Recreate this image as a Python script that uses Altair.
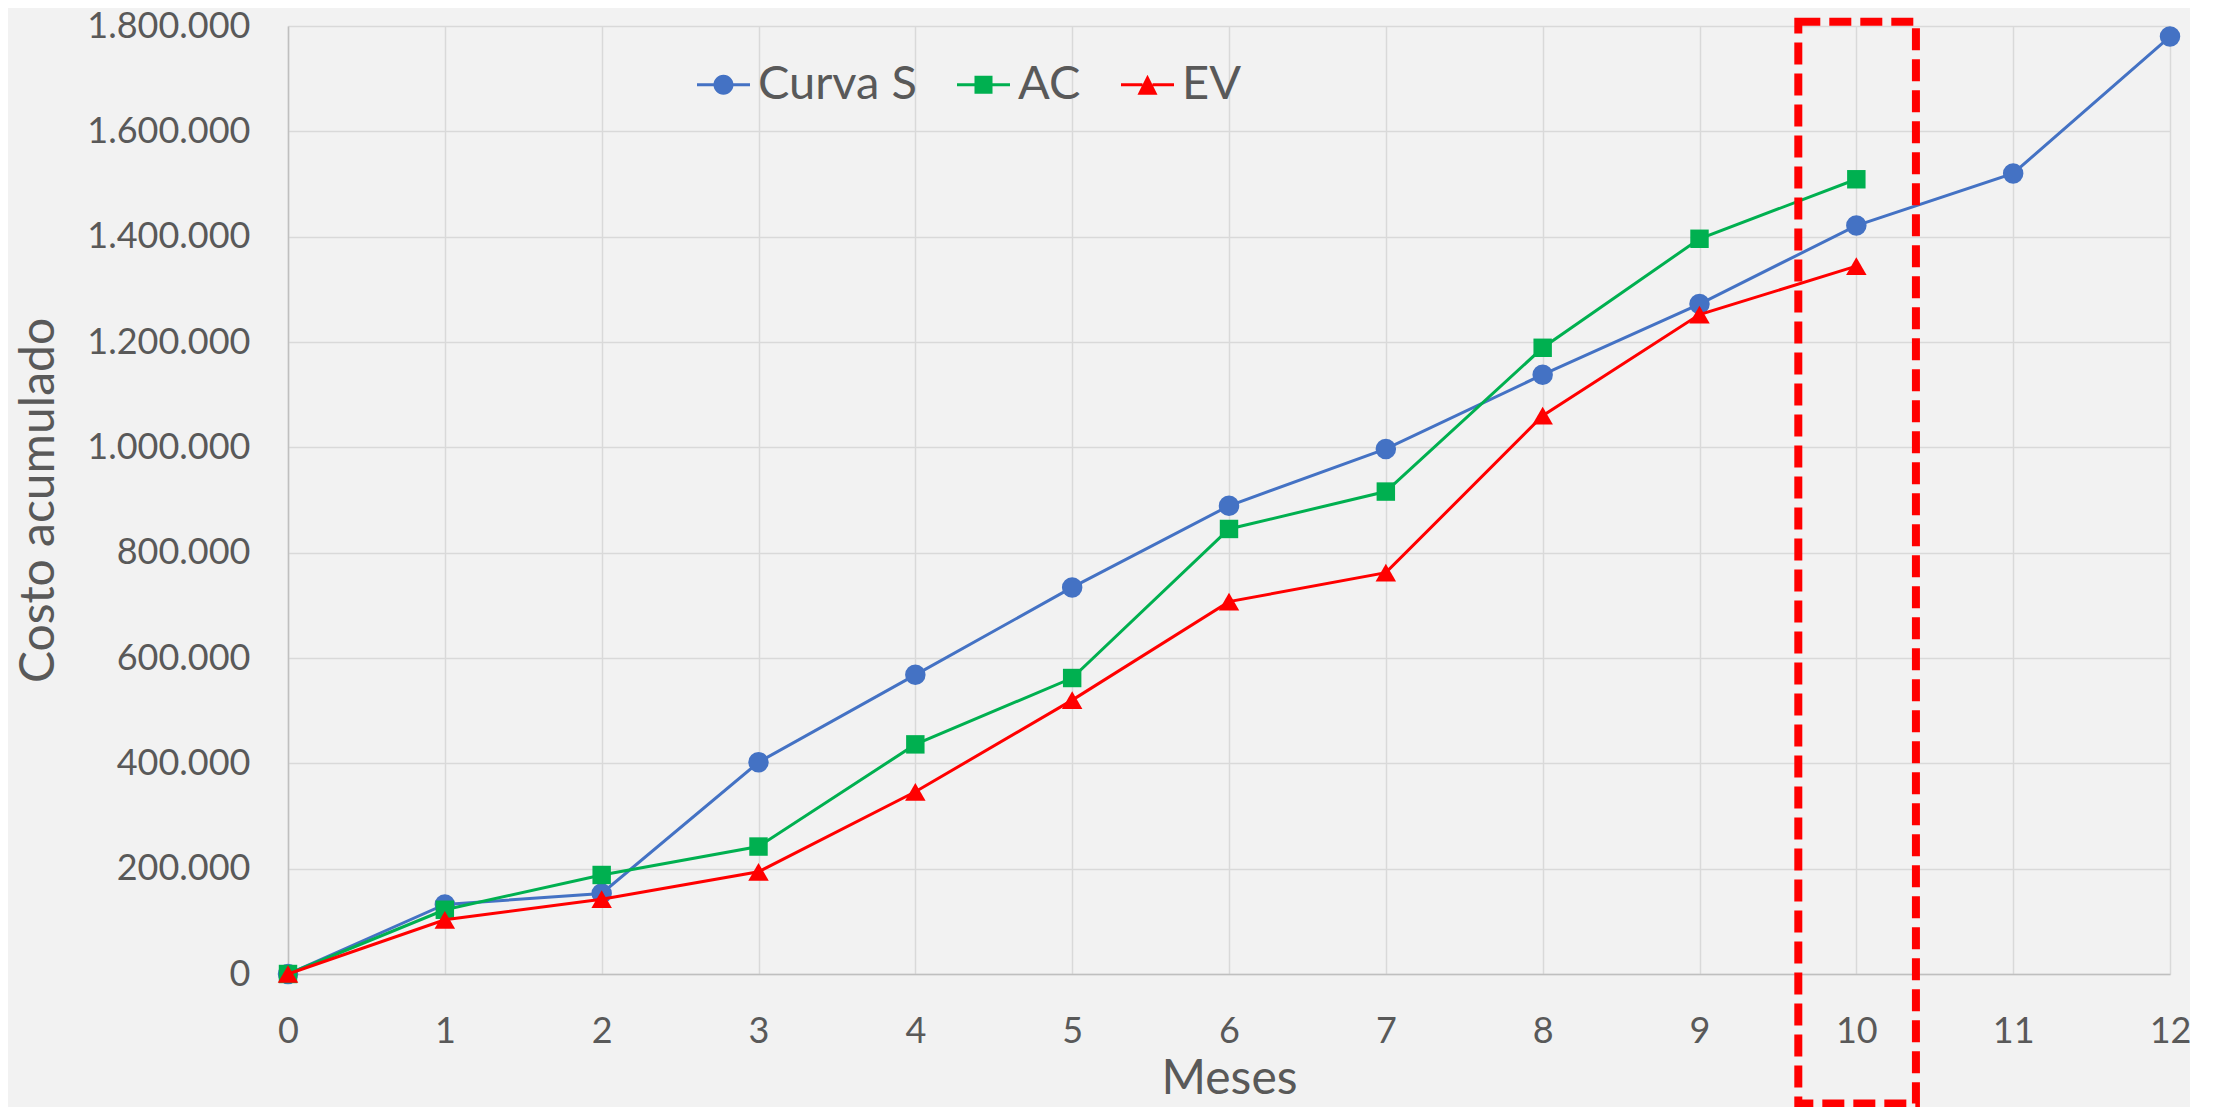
import altair as alt
import pandas as pd

# ---- data ----
meses = list(range(13))
curva_s = [0, 132000, 153000, 402000, 568000, 734000, 889000, 997000,
           1138000, 1272000, 1421000, 1520000, 1780000]
ac = [0, 122000, 188000, 242000, 436000, 562000, 845000, 916000,
      1189000, 1396000, 1509000]
ev = [0, 103000, 142000, 194000, 346000, 520000, 707000, 762000,
      1060000, 1252000, 1344000]

series = ["Curva S", "AC", "EV"]
colors = ["#4472C4", "#00B050", "#FF0000"]
marker_shapes = ["circle", "square", "triangle-up"]
marker_sizes = [420, 340, 420]

x_ticks = meses
y_ticks = list(range(0, 1800001, 200000))

# highlighted window around month 10 (dashed red frame), in data units
box_x = [9.63, 10.38]
box_y = [-246000, 1808000]

# ---- tables ----
rows = []
for name, vals in zip(series, [curva_s, ac, ev]):
    for m, v in zip(meses, vals):
        rows.append({"mes": m, "valor": v, "serie": name})
df = pd.DataFrame(rows)
box_df = pd.DataFrame({"x0": [box_x[0]], "x1": [box_x[1]],
                       "y0": [box_y[0]], "y1": [box_y[1]]})

# legend symbols: line segment + marker (unit square coordinates)
h = 0.057
def seg(a):
    return (f"M-1,{-h}L{-a},{-h}L{-a},{h}L-1,{h}Z"
            f"M{a},{-h}L1,{-h}L1,{h}L{a},{h}Z")
rc = 0.377
circ = f"M{rc},0A{rc},{rc},0,1,1,{-rc},0A{rc},{rc},0,1,1,{rc},0Z"
sq = 0.34
square = f"M{-sq},{-sq}L{sq},{-sq}L{sq},{sq}L{-sq},{sq}Z"
t = 0.377
tri = f"M0,{-t}L{t},{t}L{-t},{t}Z"
legend_paths = [seg(0.3) + circ, seg(0.3) + square, seg(0.19) + tri]

x_scale = alt.Scale(domain=[0, 12], nice=False, zero=False)
y_scale = alt.Scale(domain=[0, 1800000], nice=False)
x_axis = alt.Axis(values=x_ticks, title="Meses", labelFlush=False,
                  labelOverlap=False, labelPadding=40, titlePadding=6,
                  grid=True, ticks=False)
y_axis = alt.Axis(values=y_ticks, title="Costo acumulado", format=",d",
                  labelFlush=False, labelOverlap=False, labelPadding=38,
                  titlePadding=25, grid=True, ticks=False)


def X(f):
    return alt.X(f, scale=x_scale, axis=x_axis)


def Y(f):
    return alt.Y(f, scale=y_scale, axis=y_axis)


layers = []
for name, col, shp, sz in zip(series, colors, marker_shapes, marker_sizes):
    base = alt.Chart(df).transform_filter(alt.datum.serie == name)
    layers.append(base.mark_line(color=col, strokeWidth=3).encode(
        x=X("mes:Q"), y=Y("valor:Q")))
    layers.append(base.mark_point(filled=True, shape=shp, size=sz, fill=col,
                                  color=col, opacity=1, strokeWidth=0).encode(
        x=X("mes:Q"), y=Y("valor:Q")))

box = alt.Chart(box_df).mark_rect(
    fill="transparent", stroke="#FF0000", strokeWidth=8,
    strokeDash=[22, 9], clip=False
).encode(x=X("x0:Q"), x2="x1:Q", y=Y("y0:Q"), y2="y1:Q")
layers.append(box)

leg = alt.Legend(title=None)
legend_layer = alt.Chart(df).mark_point(filled=True, opacity=0).encode(
    x=X("mes:Q"), y=Y("valor:Q"),
    color=alt.Color("serie:N", scale=alt.Scale(domain=series, range=colors),
                    legend=leg),
    shape=alt.Shape("serie:N", scale=alt.Scale(domain=series,
                                               range=legend_paths),
                    legend=leg),
)
layers.append(legend_layer)

chart = alt.layer(*layers).properties(
    width=1882, height=948,
    padding={"left": 280, "top": 18, "right": 20, "bottom": 133},
    autosize=alt.AutoSizeParams(type="none"),
    background="#f2f2f2",
).configure(
    locale={"number": {"decimal": ",", "thousands": ".", "grouping": [3],
                       "currency": ["", " €"]}}
).configure_view(
    strokeWidth=0
).configure_axis(
    labelFont="Lato", labelFontSize=36, labelColor="#595959",
    titleFont="Lato", titleFontSize=48, titleColor="#595959",
    titleFontWeight="normal",
    gridColor="#d9d9d9", gridWidth=1.5,
    domainColor="#bfbfbf", domainWidth=1.5,
).configure_legend(
    orient="none", legendX=409, legendY=32, direction="horizontal",
    padding=0, columnPadding=40, labelOffset=8,
    labelFont="Lato", labelFontSize=47, labelColor="#595959",
    labelLimit=400, symbolSize=2809, symbolStrokeWidth=0,
    symbolOpacity=1,
)

chart.save("out.html", embed_options={"renderer": "svg", "actions": False})
